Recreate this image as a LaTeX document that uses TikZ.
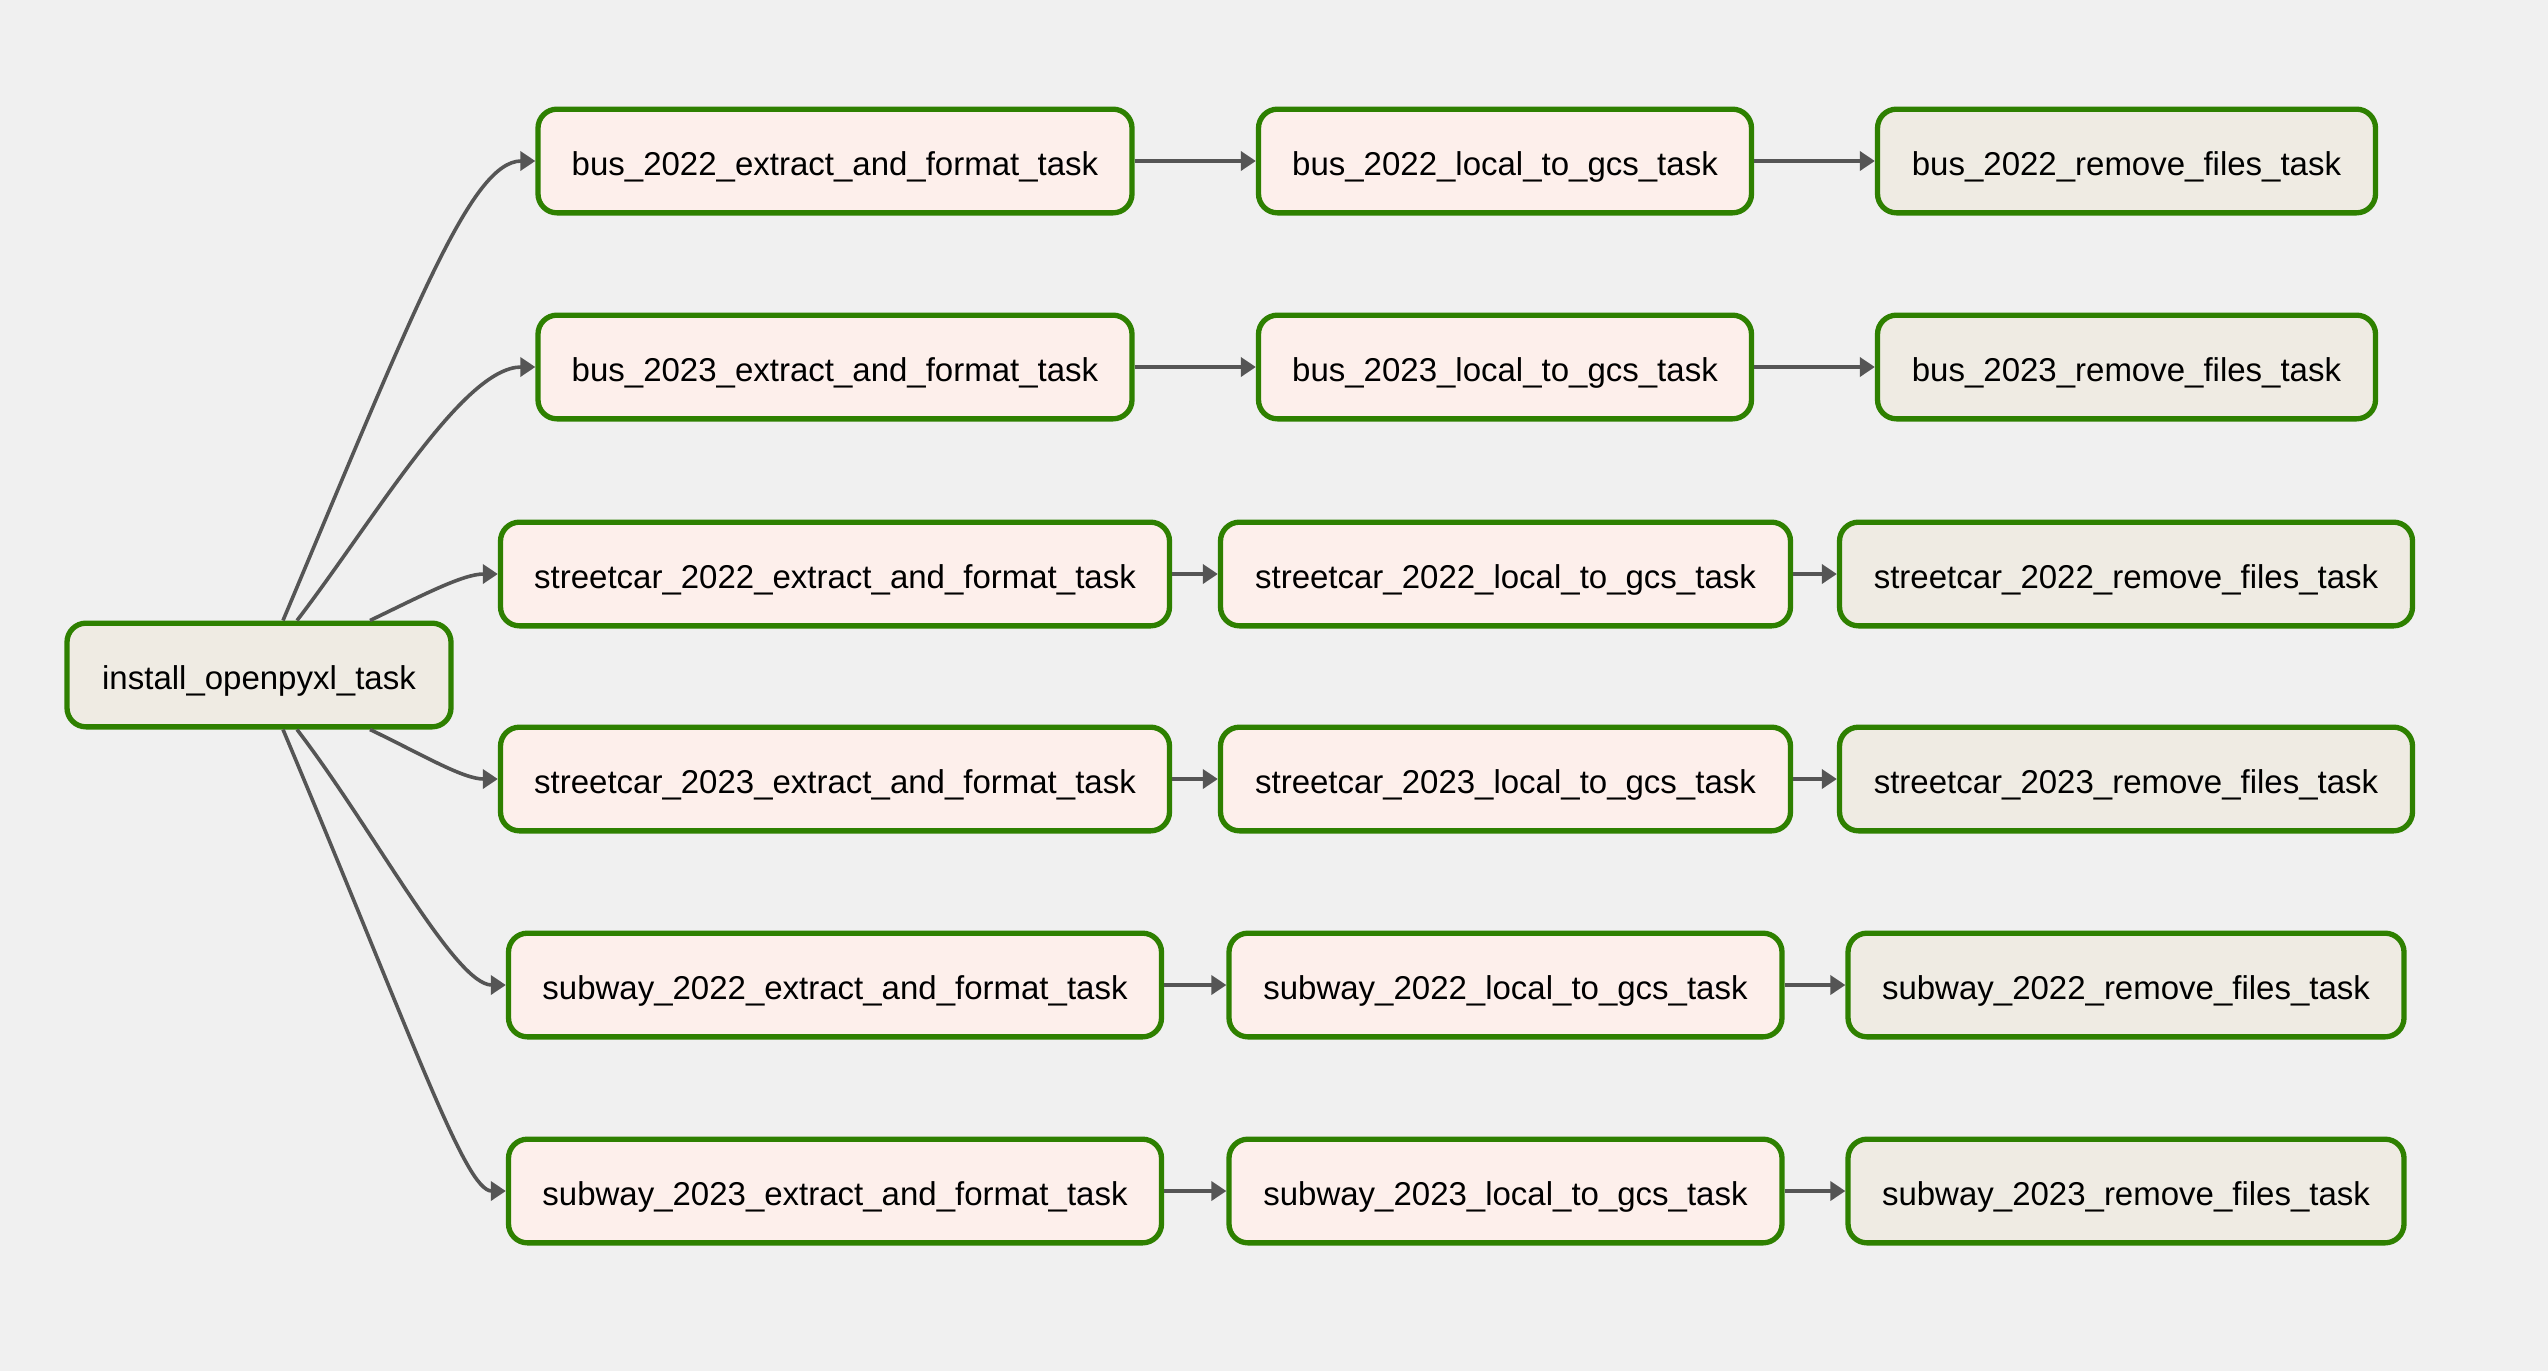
\documentclass[tikz,border=0pt]{standalone}
\usepackage{fontspec}
\setmainfont{Liberation Sans}
\usetikzlibrary{arrows.meta,calc}
\definecolor{bg}{HTML}{F0F0F0}
\definecolor{okgreen}{RGB}{46,128,0}
\definecolor{pyfill}{HTML}{FDEFEB}
\definecolor{bashfill}{HTML}{EFEBE3}
\definecolor{edgegray}{HTML}{555555}
\begin{document}
\begin{tikzpicture}[x=0.5pt,y=-0.5pt,
  task/.style={draw=okgreen,line width=2.65pt,rounded corners=9.5pt,rectangle,
    minimum height=51.85pt,inner sep=0pt,text height=14.5pt,text depth=0pt,
    font=\fontsize{16.5}{20}\selectfont},
  pytask/.style={task,fill=pyfill},
  bashtask/.style={task,fill=bashfill},
  conn/.style={draw=edgegray,line width=1.8pt,-{Triangle[length=7.5pt,width=9.5pt]}}]
\fill[bg] (0,0) rectangle (2548,1371);
\useasboundingbox (0,0) rectangle (2548,1371);

\node[bashtask,minimum width=192pt] (inst) at (259,675) {install\_openpyxl\_task};

\node[pytask,minimum width=297pt] (bx22e) at (835,161) {bus\_2022\_extract\_and\_format\_task};
\node[pytask,minimum width=246.5pt] (bx22l) at (1505,161) {bus\_2022\_local\_to\_gcs\_task};
\node[bashtask,minimum width=249pt] (bx22r) at (2126.5,161) {bus\_2022\_remove\_files\_task};

\node[pytask,minimum width=297pt] (bx23e) at (835,367) {bus\_2023\_extract\_and\_format\_task};
\node[pytask,minimum width=246.5pt] (bx23l) at (1505,367) {bus\_2023\_local\_to\_gcs\_task};
\node[bashtask,minimum width=249pt] (bx23r) at (2126.5,367) {bus\_2023\_remove\_files\_task};

\node[pytask,minimum width=334.5pt] (sc22e) at (835,574) {streetcar\_2022\_extract\_and\_format\_task};
\node[pytask,minimum width=285pt] (sc22l) at (1505.5,574) {streetcar\_2022\_local\_to\_gcs\_task};
\node[bashtask,minimum width=286.5pt] (sc22r) at (2126,574) {streetcar\_2022\_remove\_files\_task};

\node[pytask,minimum width=334.5pt] (sc23e) at (835,779) {streetcar\_2023\_extract\_and\_format\_task};
\node[pytask,minimum width=285pt] (sc23l) at (1505.5,779) {streetcar\_2023\_local\_to\_gcs\_task};
\node[bashtask,minimum width=286.5pt] (sc23r) at (2126,779) {streetcar\_2023\_remove\_files\_task};

\node[pytask,minimum width=326.5pt] (sw22e) at (835,985) {subway\_2022\_extract\_and\_format\_task};
\node[pytask,minimum width=276.5pt] (sw22l) at (1505.5,985) {subway\_2022\_local\_to\_gcs\_task};
\node[bashtask,minimum width=278pt] (sw22r) at (2126,985) {subway\_2022\_remove\_files\_task};

\node[pytask,minimum width=326.5pt] (sw23e) at (835,1191) {subway\_2023\_extract\_and\_format\_task};
\node[pytask,minimum width=276.5pt] (sw23l) at (1505.5,1191) {subway\_2023\_local\_to\_gcs\_task};
\node[bashtask,minimum width=278pt] (sw23r) at (2126,1191) {subway\_2023\_remove\_files\_task};

% horizontal chains
\foreach \r in {bx22,bx23,sc22,sc23,sw22,sw23}{
  \draw[conn] (\r e.east) -- (\r l.west);
  \draw[conn] (\r l.east) -- (\r r.west);
}

% fan-out from install
\draw[conn] ($(inst.north)+(24,0)$) .. controls (414,309) and (471,161) .. (bx22e.west);
\draw[conn] ($(inst.north)+(38,0)$) .. controls (374,520) and (463,367) .. (bx23e.west);
\draw[conn] ($(inst.north)+(111,0)$) .. controls (423,595) and (463,574) .. (sc22e.west);
\draw[conn] ($(inst.south)+(111,0)$) .. controls (423,755) and (463,779) .. (sc23e.west);
\draw[conn] ($(inst.south)+(38,0)$) .. controls (374,830) and (455,985) .. (sw22e.west);
\draw[conn] ($(inst.south)+(24,0)$) .. controls (414,1041) and (465,1191) .. (sw23e.west);
\end{tikzpicture}
\end{document}
